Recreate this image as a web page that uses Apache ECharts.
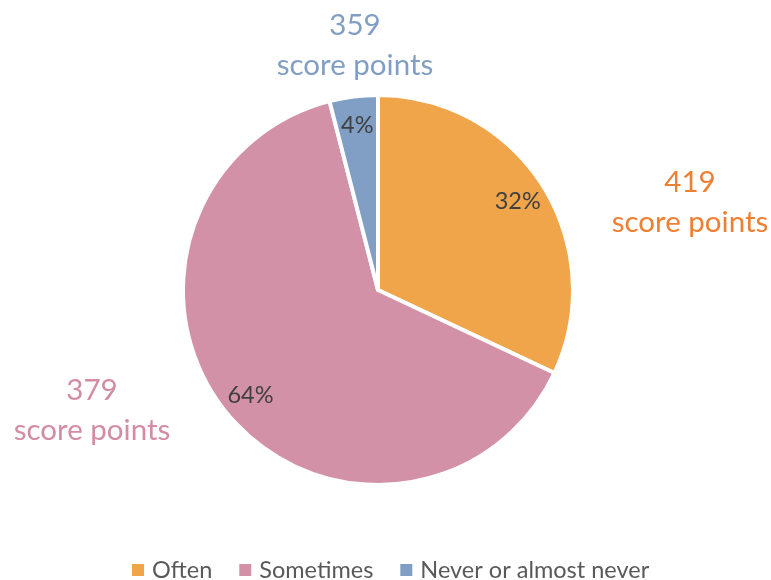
<!DOCTYPE html>
<html>
<head>
<meta charset="utf-8">
<style>
  html, body { margin: 0; padding: 0; background: #ffffff; }
  #chart { width: 771px; height: 580px; }
</style>
<script src="https://cdn.jsdelivr.net/npm/echarts@6/dist/echarts.min.js"></script>
</head>
<body>
<div id="chart"></div>
<script>
// Share of students per frequency category (percent)
const categories = ['Often', 'Sometimes', 'Never or almost never'];
const shares = [32, 64, 4];
// Mean score for each category
const scores = [419, 379, 359];
const sliceColors = ['#F1A54A', '#D391A7', '#819FC4'];
const scoreColors = ['#EE7F33', '#D48CA4', '#819FC4'];

const FONT = 'Lato, "Open Sans", sans-serif';
const CX = 378, CY = 290, R = 195;

const chart = echarts.init(document.getElementById('chart'), null, { renderer: 'canvas' });

const pieData = categories.map((name, i) => ({
  name: name,
  value: shares[i],
  itemStyle: { color: sliceColors[i] }
}));

// Score annotations sit outside the pie, next to their slice
const scoreAnchors = [
  { x: 690, y: 202 },
  { x: 92, y: 410 },
  { x: 355, y: 45 }
];

const graphics = scores.map((s, i) => ({
  type: 'text',
  x: scoreAnchors[i].x,
  y: scoreAnchors[i].y,
  style: {
    text: s + '\nscore points',
    fill: scoreColors[i],
    font: '29.5px ' + FONT,
    align: 'center',
    verticalAlign: 'middle',
    lineHeight: 40
  }
}));

chart.setOption({
  animation: false,
  backgroundColor: '#ffffff',
  legend: {
    data: categories,
    top: 553,
    left: 125,
    icon: 'rect',
    itemWidth: 14,
    itemHeight: 14,
    itemGap: 25,
    textStyle: { fontFamily: FONT, fontSize: 23.5, color: '#595959', padding: [0, 0, 0, 2] }
  },
  graphic: graphics,
  series: [
    {
      type: 'pie',
      center: [CX, CY],
      radius: [0, R],
      startAngle: 90,
      clockwise: true,
      data: pieData,
      itemStyle: { borderColor: '#ffffff', borderWidth: 4 },
      label: { show: false },
      labelLine: { show: false },
      emphasis: { disabled: true }
    },
    {
      // Transparent ring used only to place the percentage labels
      type: 'pie',
      center: [CX, CY],
      radius: [130, R],
      startAngle: 90,
      clockwise: true,
      silent: true,
      legendHoverLink: false,
      data: pieData.map(d => ({ name: d.name, value: d.value })),
      itemStyle: { color: 'rgba(0,0,0,0)', borderWidth: 0 },
      label: {
        show: true,
        position: 'inside',
        formatter: p => p.value + '%',
        fontFamily: FONT,
        fontSize: 23.5,
        color: '#404040'
      },
      labelLine: { show: false },
      emphasis: { disabled: true }
    }
  ]
});
</script>
</body>
</html>
